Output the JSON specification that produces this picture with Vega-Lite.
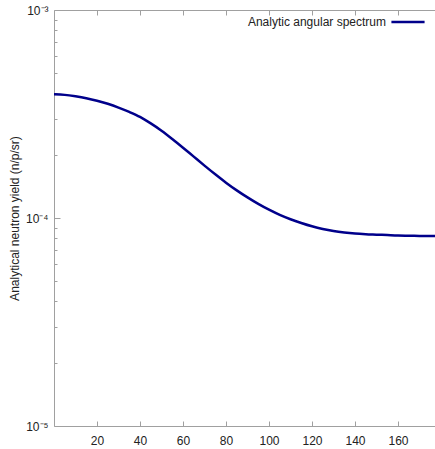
{
  "$schema": "https://vega.github.io/schema/vega-lite/v6.json",
  "autosize": {"type": "none"},
  "padding": {"left": 54, "top": 10, "right": 0, "bottom": 23},
  "width": 387,
  "height": 416,
  "background": "white",
  "config": {
    "view": {"stroke": "#a0a0a0", "strokeWidth": 1},
    "font": "Liberation Sans",
    "axis": {"grid": false, "domain": false, "tickColor": "#a0a0a0", "labelColor": "#222222", "labelFont": "Liberation Sans", "labelFontSize": 12, "titleFont": "Liberation Sans", "titleFontWeight": "normal", "titleColor": "#222222", "titleFontSize": 12}
  },
  "data": {"values": [
    {"angle": 0, "yield": 3.936e-4, "series": "Analytic angular spectrum"},
    {"angle": 5, "yield": 3.908e-4, "series": "Analytic angular spectrum"},
    {"angle": 10, "yield": 3.846e-4, "series": "Analytic angular spectrum"},
    {"angle": 15, "yield": 3.767e-4, "series": "Analytic angular spectrum"},
    {"angle": 20, "yield": 3.664e-4, "series": "Analytic angular spectrum"},
    {"angle": 25, "yield": 3.540e-4, "series": "Analytic angular spectrum"},
    {"angle": 30, "yield": 3.396e-4, "series": "Analytic angular spectrum"},
    {"angle": 35, "yield": 3.236e-4, "series": "Analytic angular spectrum"},
    {"angle": 40, "yield": 3.062e-4, "series": "Analytic angular spectrum"},
    {"angle": 45, "yield": 2.851e-4, "series": "Analytic angular spectrum"},
    {"angle": 50, "yield": 2.630e-4, "series": "Analytic angular spectrum"},
    {"angle": 55, "yield": 2.399e-4, "series": "Analytic angular spectrum"},
    {"angle": 60, "yield": 2.178e-4, "series": "Analytic angular spectrum"},
    {"angle": 65, "yield": 1.972e-4, "series": "Analytic angular spectrum"},
    {"angle": 70, "yield": 1.786e-4, "series": "Analytic angular spectrum"},
    {"angle": 75, "yield": 1.622e-4, "series": "Analytic angular spectrum"},
    {"angle": 80, "yield": 1.479e-4, "series": "Analytic angular spectrum"},
    {"angle": 85, "yield": 1.358e-4, "series": "Analytic angular spectrum"},
    {"angle": 90, "yield": 1.256e-4, "series": "Analytic angular spectrum"},
    {"angle": 95, "yield": 1.169e-4, "series": "Analytic angular spectrum"},
    {"angle": 100, "yield": 1.096e-4, "series": "Analytic angular spectrum"},
    {"angle": 105, "yield": 1.035e-4, "series": "Analytic angular spectrum"},
    {"angle": 110, "yield": 9.863e-5, "series": "Analytic angular spectrum"},
    {"angle": 115, "yield": 9.462e-5, "series": "Analytic angular spectrum"},
    {"angle": 120, "yield": 9.120e-5, "series": "Analytic angular spectrum"},
    {"angle": 125, "yield": 8.851e-5, "series": "Analytic angular spectrum"},
    {"angle": 130, "yield": 8.650e-5, "series": "Analytic angular spectrum"},
    {"angle": 135, "yield": 8.511e-5, "series": "Analytic angular spectrum"},
    {"angle": 140, "yield": 8.414e-5, "series": "Analytic angular spectrum"},
    {"angle": 145, "yield": 8.356e-5, "series": "Analytic angular spectrum"},
    {"angle": 150, "yield": 8.318e-5, "series": "Analytic angular spectrum"},
    {"angle": 155, "yield": 8.279e-5, "series": "Analytic angular spectrum"},
    {"angle": 160, "yield": 8.241e-5, "series": "Analytic angular spectrum"},
    {"angle": 165, "yield": 8.222e-5, "series": "Analytic angular spectrum"},
    {"angle": 170, "yield": 8.204e-5, "series": "Analytic angular spectrum"},
    {"angle": 175, "yield": 8.185e-5, "series": "Analytic angular spectrum"},
    {"angle": 180, "yield": 8.185e-5, "series": "Analytic angular spectrum"}
  ]},
  "layer": [
    {
      "mark": {"type": "line", "strokeWidth": 2.5, "interpolate": "monotone", "clip": true},
      "encoding": {
        "x": {"field": "angle", "type": "quantitative", "scale": {"domain": [0, 180], "nice": false, "zero": false},
          "axis": {"orient": "bottom", "title": null, "values": [20, 40, 60, 80, 100, 120, 140, 160], "tickSize": -5, "labelPadding": 14}},
        "y": {"field": "yield", "type": "quantitative", "scale": {"type": "log", "domain": [1e-5, 1e-3], "nice": false},
          "axis": {"title": "Analytical neutron yield (n/p/sr)", "titlePadding": 4,
            "values": [1e-5, 2e-5, 3e-5, 4e-5, 5e-5, 6e-5, 7e-5, 8e-5, 9e-5, 1e-4, 2e-4, 3e-4, 4e-4, 5e-4, 6e-4, 7e-4, 8e-4, 9e-4, 1e-3],
            "labelExpr": "abs(log(datum.value)/LN10 - round(log(datum.value)/LN10)) < 0.001 ? '10' + (round(log(datum.value)/LN10) == -3 ? '⁻³' : round(log(datum.value)/LN10) == -4 ? '⁻⁴' : '⁻⁵') : ''",
            "tickSize": {"condition": {"test": "abs(log(datum.value)/LN10 - round(log(datum.value)/LN10)) < 0.001", "value": -6}, "value": -3},
            "labelPadding": 12}},
        "color": {"field": "series", "type": "nominal", "scale": {"range": ["#00008b"]},
          "legend": {"title": null, "orient": "none", "legendX": 336, "legendY": -6, "symbolType": "stroke", "symbolSize": 1100, "symbolStrokeWidth": 2.5, "labelFontSize": 12, "labelFont": "Liberation Sans", "labelColor": "#222222", "labelAlign": "right", "labelOffset": -40}}
      }
    },
    {
      "mark": {"type": "line", "opacity": 0},
      "encoding": {
        "x": {"field": "angle", "type": "quantitative", "axis": {"orient": "top", "title": null, "values": [20, 40, 60, 80, 100, 120, 140, 160], "labels": false, "tickSize": -5}},
        "y": {"field": "yield", "type": "quantitative"}
      }
    }
  ]
}
